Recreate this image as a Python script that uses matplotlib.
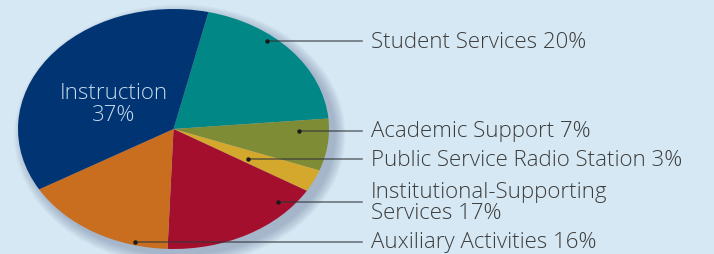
import numpy as np
import matplotlib
matplotlib.use("Agg")
import matplotlib.pyplot as plt
from matplotlib.patches import Ellipse

# slices, clockwise from the top
labels = ["Student Services 20%", "Academic Support 7%",
          "Public Service Radio Station 3%",
          "Institutional-Supporting\nServices 17%",
          "Auxiliary Activities 16%", "Instruction\n37%"]
values = [20, 7, 3, 17, 16, 37]
colors = ["#008786", "#7f8c36", "#d3a82c", "#a50f2e", "#c96e1f", "#003473"]

# label rows (pixel y) and where along the row inside the slice the dot sits
label_rows = [42, 132, 160, 203, 243]
dot_frac = [0.85, 0.8, 0.25, 0.85, 0.3]

W, H = 714, 255
bg = "#d6e8f3"
txt = "#3c3c3c"
font = "Open Sans"

fig = plt.figure(figsize=(W / 100, H / 100), dpi=100)
fig.patch.set_facecolor(bg)

# pie box in pixels: center (173.5, 130), radii 155.5 x 120
cx, cy, rx, ry = 173.5, 130, 155.5, 120
pax = fig.add_axes([(cx - rx) / W, 1 - (cy + ry) / H, 2 * rx / W, 2 * ry / H])
pax.set_facecolor("none")

# soft shadow
for k in range(12):
    pax.add_patch(Ellipse((0.04, -0.05), 2 + k * 0.012, 2 + k * 0.016,
                          color="#56668a", alpha=0.035, lw=0, clip_on=False))

start = 77
wedges, _ = pax.pie(values, colors=colors, startangle=start, counterclock=False,
                    wedgeprops=dict(linewidth=0))
pax.set_aspect("auto")
pax.set_xlim(-1, 1)
pax.set_ylim(-1, 1)
pax.axis("off")

def to_px(x, y):
    return cx + rx * x, cy - ry * y

# leader lines + labels
for i, row in enumerate(label_rows):
    w = wedges[i]
    t1, t2 = np.radians(w.theta1), np.radians(w.theta2)
    y0 = (cy - row) / ry
    xs = np.linspace(-1, 1, 4001)
    ang = np.arctan2(y0, xs)
    ang = np.where(ang < t1 - 1e-9, ang + 2 * np.pi, ang)
    ok = (xs ** 2 + y0 ** 2 <= 1) & (ang >= t1) & (ang <= t2)
    xv = xs[ok]
    xd = xv.min() + dot_frac[i] * (xv.max() - xv.min())
    px, py = to_px(xd, y0)
    fig.add_artist(plt.Line2D([px / W, 362 / W], [1 - py / H, 1 - py / H],
                              color="#30353a", alpha=0.7, lw=1.1,
                              transform=fig.transFigure))
    fig.add_artist(plt.Line2D([px / W], [1 - py / H], marker="o", ms=2.2,
                              color="#1a1a1a", lw=0, transform=fig.transFigure))
    fig.text(371 / W, 1 - py / H, labels[i], ha="left", va="center",
             fontsize=16, color=txt, family=font, fontweight="light",
             linespacing=1.05)

# Instruction label inside the navy slice
w = wedges[-1]
mid = np.radians((w.theta1 + w.theta2) / 2)
pax.text(0.44 * np.cos(mid) - 0.03, 0.44 * np.sin(mid) - 0.05, labels[-1],
         ha="center", va="center", fontsize=16, color="#c5d9ea", family=font,
         fontweight="light", linespacing=1.05)

fig.savefig("out.png", dpi=100, facecolor=bg)
